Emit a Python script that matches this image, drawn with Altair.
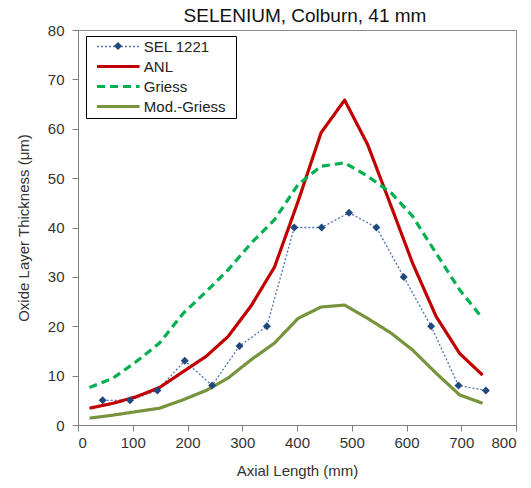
import altair as alt
import pandas as pd

# ---- values ----
series_names = ["SEL 1221", "ANL", "Griess", "Mod.-Griess"]
series_colors = ["#4f74b0", "#c00000", "#00b050", "#77933c"]
series_dash = [[2, 2], [1, 0], [8, 5], [1, 0]]
series_width = [1.3, 3.2, 3.2, 3.2]
marker_color = "#1f497d"

# measured oxide thickness, SEL 1221
sel_x = [45, 95, 145, 195, 245, 295, 345, 395, 445, 495, 545, 595, 645, 695, 745]
sel_y = [5, 5, 7, 13, 8, 16, 20, 40, 40, 43, 40, 30, 20, 8, 7]

# axial nodes of the calculated profiles
node_x = [21, 64, 106, 149, 192, 234, 274, 316, 359, 402, 444, 487, 529, 572, 611, 654, 697, 739]
anl_y = [3.4, 4.4, 5.7, 7.6, 10.8, 13.9, 17.9, 24.1, 32.0, 45.3, 59.2, 65.8, 56.8, 44.3, 32.8, 22.0, 14.5, 10.1]
griess_y = [7.6, 9.5, 12.8, 16.6, 22.6, 27.0, 31.4, 36.8, 41.6, 48.7, 52.4, 53.1, 50.4, 47.0, 42.3, 34.8, 27.4, 21.6]
mod_griess_y = [1.4, 2.0, 2.7, 3.4, 5.1, 7.0, 9.5, 13.2, 16.6, 21.6, 23.9, 24.3, 21.6, 18.6, 15.2, 10.5, 6.1, 4.4]

x_ticks = [0, 100, 200, 300, 400, 500, 600, 700, 800]
y_ticks = [0, 10, 20, 30, 40, 50, 60, 70, 80]

FONT = "Liberation Sans"

rows = []
for xv, yv in zip(sel_x, sel_y):
    rows.append({"series": "SEL 1221", "x": xv, "y": yv})
for name, ys in (("ANL", anl_y), ("Griess", griess_y), ("Mod.-Griess", mod_griess_y)):
    for xv, yv in zip(node_x, ys):
        rows.append({"series": name, "x": xv, "y": yv})
df = pd.DataFrame(rows)

# wide horizontal stroke used as the legend line sample
line_path = "M-4.26,0H4.26"

line_legend = alt.Legend(
    # a transparent spacer title on the right widens the box a little
    title="x",
    titleOrient="right",
    titleOpacity=0,
    titleFontSize=9,
    titlePadding=2,
    orient="none",
    legendX=8,
    legendY=6,
    fillColor="white",
    strokeColor="black",
    padding=3,
    cornerRadius=0,
    labelFont=FONT,
    labelFontSize=15,
    labelColor="#222222",
    symbolType=line_path,
    symbolSize=100,
    symbolOffset=21.8,
    labelOffset=18,
    rowPadding=4,
    zindex=1,
)

# diamond drawn over the SEL 1221 legend line
marker_legend = alt.Legend(
    title=None,
    orient="none",
    legendX=36,
    legendY=12,
    padding=0,
    labelExpr="''",
    labelFontSize=8,
    symbolSize=64,
    symbolStrokeWidth=0,
    symbolOffset=0,
    labelOffset=0,
    zindex=2,
)

x_enc = alt.X(
    "x:Q",
    scale=alt.Scale(domain=[0, 800], nice=False),
    axis=alt.Axis(values=x_ticks, title="Axial Length (mm)", titlePadding=13),
)
y_enc = alt.Y(
    "y:Q",
    scale=alt.Scale(domain=[0, 80], nice=False),
    axis=alt.Axis(values=y_ticks, title="Oxide Layer Thickness (\u03bcm)", titlePadding=16),
)

lines = alt.Chart(df).mark_line(strokeJoin="round", strokeCap="butt").encode(
    x=x_enc,
    y=y_enc,
    color=alt.Color("series:N", scale=alt.Scale(domain=series_names, range=series_colors), legend=line_legend),
    strokeDash=alt.StrokeDash("series:N", scale=alt.Scale(domain=series_names, range=series_dash), legend=line_legend),
    strokeWidth=alt.StrokeWidth(
        "series:N",
        scale=alt.Scale(type="ordinal", domain=series_names, range=series_width),
        legend=line_legend,
    ),
    order=alt.Order("x:Q"),
)

markers = alt.Chart(df).transform_filter(
    alt.datum.series == "SEL 1221"
).mark_point(filled=True, size=64, opacity=1, color=marker_color).encode(
    x="x:Q",
    y="y:Q",
    shape=alt.Shape("series:N", scale=alt.Scale(domain=["SEL 1221"], range=["diamond"]), legend=marker_legend),
)

chart = (
    alt.layer(lines, markers)
    .properties(
        width=438,
        height=395,
        background="white",
        title=alt.TitleParams(
            "SELENIUM, Colburn, 41 mm",
            font=FONT,
            fontSize=19,
            fontWeight="normal",
            color="#111111",
            anchor="middle",
            offset=5,
            dx=8,
            dy=8,
        ),
        autosize=alt.AutoSizeParams(type="none"),
        padding={"left": 78, "top": 30, "right": 15, "bottom": 63},
    )
    .configure_view(stroke="#8c8c8c", strokeWidth=1)
    .configure_axis(
        grid=False,
        domainColor="#7f7f7f",
        tickColor="#7f7f7f",
        tickSize=6,
        labelFont=FONT,
        labelFontSize=15,
        labelColor="#333333",
        titleFont=FONT,
        titleFontSize=15,
        titleFontWeight="normal",
        titleColor="#333333",
    )
    .configure_axisX(labelPadding=4)
    .configure_axisY(labelPadding=8)
)

chart.save("out.html", embed_options={"renderer": "svg", "actions": False})
